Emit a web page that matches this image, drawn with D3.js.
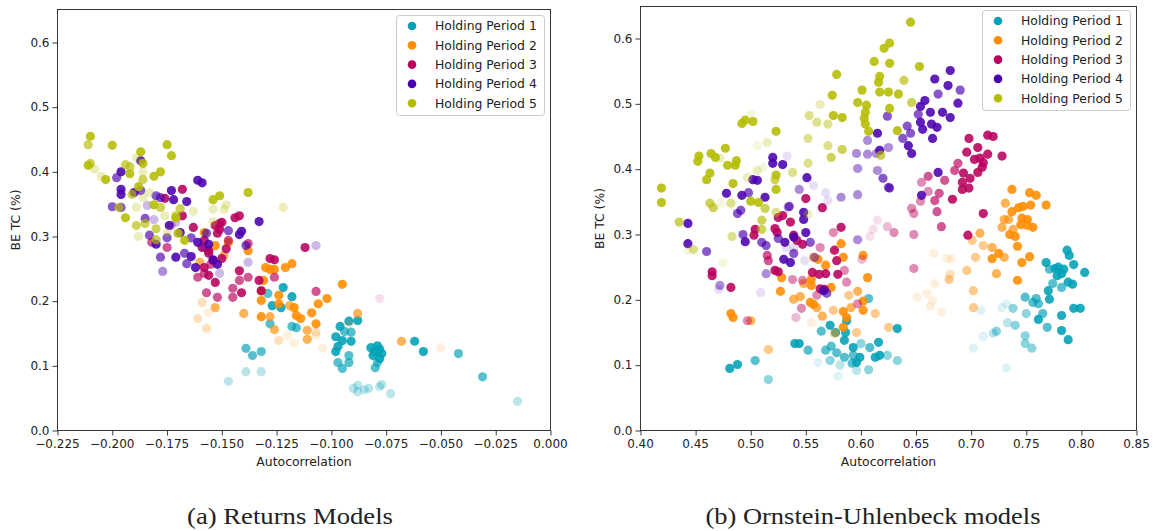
<!DOCTYPE html>
<html>
<head>
<meta charset="utf-8">
<script src="https://cdn.jsdelivr.net/npm/d3@7"></script>
<style>
  body { margin: 0; background: #fff; }
  svg { display: block; }
  text { font-family: "DejaVu Sans", sans-serif; fill: #222; }
</style>
</head>
<body>
<svg id="chart" width="1159" height="531"></svg>
<script>
// Break-even transaction cost vs. autocorrelation, per holding period.
// Each point: [autocorrelation, BE TC (%), model group]; the model group sets the point's transparency.

const seriesNames = ["Holding Period 1", "Holding Period 2", "Holding Period 3", "Holding Period 4", "Holding Period 5"];

// ---- (a) Returns models ----
const retHP1 = [
  [-0.122,0.221,0],[-0.118,0.207,0],[-0.129,0.212,1],[-0.127,0.193,0],[-0.123,0.190,0],[-0.128,0.165,1],[-0.118,0.161,1],[-0.116,0.159,1],
  [-0.139,0.127,1],[-0.136,0.116,1],[-0.132,0.122,1],[-0.096,0.161,0],[-0.092,0.169,0],[-0.088,0.170,0],[-0.094,0.153,1],[-0.091,0.152,1],
  [-0.098,0.145,0],[-0.095,0.139,0],[-0.091,0.138,0],[-0.098,0.122,0],[-0.092,0.116,1],[-0.092,0.105,1],[-0.097,0.105,1],[-0.095,0.096,1],
  [-0.082,0.128,0],[-0.079,0.131,0],[-0.081,0.116,0],[-0.078,0.111,0],[-0.080,0.122,0],[-0.077,0.119,0],[-0.080,0.097,1],[-0.079,0.105,1],
  [-0.062,0.138,0],[-0.058,0.122,0],[-0.042,0.119,1],[-0.031,0.083,1],[-0.015,0.045,3],[-0.090,0.065,3],[-0.088,0.070,3],[-0.088,0.060,3],
  [-0.085,0.063,3],[-0.083,0.065,3],[-0.078,0.068,3],[-0.077,0.071,3],[-0.073,0.057,3],[-0.147,0.076,3],[-0.139,0.091,3],[-0.132,0.091,3],
  [-0.097,0.130,0],[-0.078,0.126,0]
];
const retHP2 = [
  [-0.158,0.306,0],[-0.153,0.286,0],[-0.160,0.260,1],[-0.147,0.291,0],[-0.138,0.278,0],[-0.149,0.271,1],[-0.130,0.252,0],[-0.128,0.249,0],
  [-0.121,0.252,0],[-0.118,0.258,0],[-0.126,0.249,0],[-0.131,0.232,0],[-0.132,0.216,0],[-0.124,0.209,0],[-0.124,0.196,0],[-0.132,0.201,0],
  [-0.132,0.176,0],[-0.128,0.176,1],[-0.117,0.190,0],[-0.116,0.178,0],[-0.114,0.173,0],[-0.109,0.182,0],[-0.107,0.165,0],[-0.102,0.204,0],
  [-0.095,0.226,0],[-0.088,0.181,1],[-0.153,0.190,1],[-0.156,0.182,4],[-0.157,0.158,3],[-0.140,0.181,1],[-0.126,0.156,1],[-0.124,0.139,3],
  [-0.120,0.147,4],[-0.117,0.135,4],[-0.111,0.155,1],[-0.111,0.141,1],[-0.107,0.147,4],[-0.104,0.127,4],[-0.106,0.196,0],[-0.107,0.152,3],
  [-0.068,0.138,1],[-0.050,0.128,4],[-0.161,0.173,3],[-0.159,0.198,3],[-0.119,0.193,1],[-0.092,0.165,4]
];
const retHP3 = [
  [-0.168,0.373,0],[-0.176,0.359,0],[-0.168,0.332,0],[-0.163,0.314,0],[-0.153,0.317,0],[-0.151,0.320,0],[-0.151,0.311,0],[-0.150,0.266,0],
  [-0.159,0.283,0],[-0.156,0.274,0],[-0.158,0.252,0],[-0.153,0.229,0],[-0.157,0.213,1],[-0.161,0.237,1],[-0.158,0.243,1],[-0.182,0.291,1],
  [-0.175,0.283,1],[-0.152,0.206,1],[-0.155,0.257,1],[-0.144,0.329,0],[-0.142,0.332,0],[-0.150,0.322,0],[-0.152,0.305,0],[-0.158,0.294,0],
  [-0.156,0.278,0],[-0.156,0.240,0],[-0.112,0.283,0],[-0.128,0.266,0],[-0.126,0.264,0],[-0.142,0.247,0],[-0.138,0.237,1],[-0.142,0.232,1],
  [-0.145,0.220,1],[-0.141,0.213,0],[-0.145,0.206,1],[-0.133,0.232,0],[-0.132,0.216,0],[-0.126,0.237,1],[-0.107,0.215,1],[-0.148,0.281,0],
  [-0.154,0.263,0],[-0.138,0.289,1],[-0.078,0.204,4],[-0.173,0.317,3],[-0.147,0.294,1]
];
const retHP4 = [
  [-0.187,0.417,0],[-0.196,0.400,0],[-0.198,0.391,1],[-0.161,0.387,0],[-0.159,0.383,0],[-0.196,0.373,0],[-0.196,0.365,0],[-0.190,0.368,0],
  [-0.173,0.371,0],[-0.172,0.357,0],[-0.166,0.354,0],[-0.180,0.363,1],[-0.178,0.360,1],[-0.200,0.346,1],[-0.196,0.345,1],[-0.185,0.328,1],
  [-0.181,0.326,3],[-0.174,0.317,0],[-0.169,0.306,0],[-0.183,0.302,1],[-0.180,0.288,0],[-0.178,0.268,1],[-0.177,0.246,2],[-0.171,0.268,0],
  [-0.167,0.274,1],[-0.164,0.269,0],[-0.161,0.291,0],[-0.156,0.288,0],[-0.154,0.264,0],[-0.152,0.257,0],[-0.162,0.252,0],[-0.166,0.258,1],
  [-0.164,0.298,1],[-0.158,0.283,3],[-0.175,0.298,1],[-0.133,0.323,0],[-0.141,0.308,0],[-0.142,0.303,0],[-0.147,0.309,1],[-0.157,0.305,1],
  [-0.139,0.286,1],[-0.107,0.286,3],[-0.138,0.260,3],[-0.151,0.243,3],[-0.171,0.322,3],[-0.184,0.348,3],[-0.187,0.371,1]
];
const retHP5 = [
  [-0.210,0.455,0],[-0.211,0.442,1],[-0.200,0.441,0],[-0.175,0.442,0],[-0.173,0.425,0],[-0.187,0.431,0],[-0.189,0.422,3],[-0.186,0.413,0],
  [-0.211,0.410,0],[-0.210,0.413,1],[-0.208,0.404,3],[-0.194,0.411,1],[-0.192,0.408,1],[-0.203,0.388,0],[-0.205,0.393,3],[-0.192,0.397,0],
  [-0.186,0.400,3],[-0.186,0.388,1],[-0.178,0.400,0],[-0.181,0.393,0],[-0.188,0.377,0],[-0.191,0.365,1],[-0.186,0.360,3],[-0.183,0.368,3],
  [-0.181,0.349,0],[-0.189,0.345,3],[-0.197,0.345,1],[-0.194,0.329,0],[-0.189,0.317,1],[-0.188,0.300,3],[-0.185,0.320,1],[-0.180,0.312,1],
  [-0.178,0.345,1],[-0.176,0.332,3],[-0.171,0.332,1],[-0.169,0.343,1],[-0.171,0.329,0],[-0.163,0.339,3],[-0.154,0.357,0],[-0.151,0.363,0],
  [-0.154,0.342,3],[-0.149,0.342,3],[-0.154,0.323,3],[-0.170,0.305,0],[-0.167,0.294,0],[-0.180,0.295,1],[-0.175,0.306,3],[-0.138,0.368,0],
  [-0.148,0.349,3],[-0.122,0.345,3]
];

// ---- (b) Ornstein-Uhlenbeck models ----
const ouHP1 = [
  [0.787,0.276,0],[0.789,0.268,0],[0.793,0.254,0],[0.803,0.242,0],[0.768,0.257,0],[0.771,0.247,1],[0.776,0.248,0],[0.779,0.250,0],
  [0.784,0.247,0],[0.778,0.237,0],[0.782,0.240,0],[0.774,0.225,1],[0.782,0.219,1],[0.788,0.227,0],[0.792,0.224,0],[0.770,0.214,0],
  [0.771,0.201,0],[0.749,0.204,1],[0.759,0.202,1],[0.756,0.196,1],[0.761,0.194,1],[0.765,0.179,1],[0.761,0.170,0],[0.750,0.179,2],
  [0.782,0.176,0],[0.793,0.187,0],[0.799,0.187,0],[0.769,0.158,1],[0.782,0.153,0],[0.788,0.139,0],[0.749,0.145,2],[0.749,0.133,2],
  [0.755,0.126,2],[0.740,0.161,2],[0.733,0.165,3],[0.738,0.187,2],[0.728,0.188,4],[0.732,0.194,4],[0.723,0.152,2],[0.720,0.149,3],
  [0.711,0.144,4],[0.702,0.126,4],[0.709,0.184,4],[0.732,0.096,4],[0.633,0.156,0],[0.633,0.107,2],[0.616,0.135,0],[0.613,0.112,0],
  [0.617,0.115,0],[0.624,0.115,2],[0.607,0.093,2],[0.607,0.202,1],[0.587,0.168,0],[0.572,0.161,0],[0.564,0.152,1],[0.577,0.150,0],
  [0.586,0.150,0],[0.585,0.138,0],[0.593,0.127,0],[0.540,0.133,0],[0.544,0.133,0],[0.552,0.123,1],[0.568,0.123,1],[0.573,0.129,1],
  [0.578,0.119,1],[0.585,0.112,1],[0.593,0.115,1],[0.599,0.112,0],[0.596,0.104,0],[0.592,0.103,1],[0.600,0.133,2],[0.608,0.127,1],
  [0.572,0.107,2],[0.561,0.104,4],[0.581,0.100,3],[0.579,0.083,4],[0.596,0.092,3],[0.481,0.095,0],[0.488,0.101,0],[0.504,0.107,1],
  [0.516,0.078,2]
];
const ouHP2 = [
  [0.737,0.369,0],[0.753,0.364,0],[0.759,0.360,0],[0.731,0.348,1],[0.737,0.335,0],[0.743,0.341,0],[0.747,0.343,0],[0.754,0.345,0],
  [0.768,0.345,0],[0.730,0.323,1],[0.734,0.323,1],[0.746,0.325,0],[0.751,0.323,0],[0.745,0.315,0],[0.751,0.314,0],[0.756,0.311,0],
  [0.728,0.311,1],[0.738,0.308,1],[0.735,0.300,0],[0.740,0.297,0],[0.742,0.282,0],[0.753,0.266,0],[0.746,0.257,0],[0.742,0.230,0],
  [0.708,0.302,1],[0.701,0.291,2],[0.711,0.283,2],[0.719,0.280,1],[0.719,0.263,0],[0.725,0.271,0],[0.730,0.265,1],[0.704,0.265,2],
  [0.723,0.240,1],[0.696,0.245,2],[0.681,0.239,3],[0.680,0.231,2],[0.702,0.214,2],[0.702,0.188,2],[0.682,0.263,4],[0.678,0.263,4],
  [0.666,0.271,4],[0.667,0.225,4],[0.660,0.210,4],[0.651,0.204,4],[0.665,0.199,4],[0.663,0.190,4],[0.673,0.181,4],[0.625,0.158,2],
  [0.602,0.268,0],[0.606,0.234,0],[0.602,0.184,0],[0.613,0.179,2],[0.582,0.286,0],[0.584,0.265,0],[0.561,0.262,0],[0.568,0.253,0],
  [0.557,0.265,1],[0.528,0.234,0],[0.555,0.231,0],[0.555,0.222,0],[0.548,0.225,1],[0.573,0.219,0],[0.527,0.213,0],[0.539,0.201,1],
  [0.545,0.205,1],[0.554,0.196,0],[0.557,0.193,0],[0.560,0.188,1],[0.565,0.175,1],[0.575,0.184,2],[0.584,0.182,0],[0.587,0.173,0],
  [0.584,0.158,0],[0.591,0.188,1],[0.589,0.207,2],[0.597,0.213,1],[0.602,0.198,0],[0.596,0.150,2],[0.576,0.149,2],[0.482,0.179,0],
  [0.484,0.173,0],[0.500,0.168,1],[0.516,0.124,2],[0.555,0.165,4]
];
const ouHP3 = [
  [0.550,0.355,0],[0.565,0.341,0],[0.525,0.326,0],[0.529,0.329,0],[0.536,0.319,0],[0.522,0.309,0],[0.524,0.303,0],[0.539,0.299,0],
  [0.542,0.291,0],[0.547,0.285,0],[0.504,0.308,0],[0.503,0.299,0],[0.515,0.268,1],[0.516,0.260,1],[0.482,0.219,0],[0.465,0.243,0],
  [0.465,0.237,0],[0.522,0.245,0],[0.525,0.243,0],[0.538,0.231,2],[0.556,0.242,0],[0.562,0.239,0],[0.568,0.240,0],[0.576,0.276,0],
  [0.578,0.260,0],[0.579,0.239,0],[0.582,0.311,0],[0.575,0.303,2],[0.563,0.280,2],[0.585,0.245,2],[0.587,0.227,2],[0.547,0.230,2],
  [0.563,0.217,0],[0.567,0.216,0],[0.560,0.207,2],[0.546,0.187,2],[0.541,0.173,3],[0.497,0.168,2],[0.597,0.194,2],[0.601,0.262,3],
  [0.611,0.308,4],[0.615,0.322,4],[0.624,0.312,3],[0.630,0.303,2],[0.608,0.297,4],
  [0.698,0.447,0],[0.715,0.452,0],[0.720,0.450,0],[0.706,0.433,0],[0.696,0.426,0],[0.715,0.423,0],[0.728,0.420,0],[0.703,0.415,0],
  [0.708,0.417,0],[0.711,0.410,0],[0.710,0.403,0],[0.706,0.395,0],[0.688,0.409,1],[0.685,0.398,1],[0.693,0.394,0],[0.699,0.386,0],
  [0.692,0.380,0],[0.692,0.369,0],[0.698,0.371,0],[0.676,0.383,1],[0.661,0.389,1],[0.655,0.380,2],[0.661,0.366,2],[0.671,0.363,1],
  [0.667,0.352,1],[0.654,0.351,2],[0.683,0.354,0],[0.669,0.335,1],[0.646,0.340,2],[0.648,0.332,2],[0.673,0.312,1],[0.711,0.332,0],
  [0.697,0.299,0],[0.648,0.300,2],[0.648,0.248,2]
];
const ouHP4 = [
  [0.624,0.481,1],[0.615,0.455,0],[0.606,0.444,2],[0.625,0.433,2],[0.617,0.429,0],[0.596,0.424,2],[0.606,0.423,2],[0.597,0.401,2],
  [0.615,0.398,2],[0.620,0.386,1],[0.625,0.372,1],[0.597,0.361,2],[0.582,0.357,2],[0.520,0.418,0],[0.520,0.409,0],[0.529,0.407,0],
  [0.533,0.420,4],[0.551,0.387,0],[0.544,0.369,2],[0.557,0.375,4],[0.502,0.384,0],[0.506,0.383,0],[0.478,0.363,0],[0.492,0.360,0],
  [0.498,0.364,1],[0.513,0.357,0],[0.534,0.342,2],[0.568,0.364,4],[0.570,0.352,4],[0.488,0.332,1],[0.491,0.337,1],[0.443,0.317,0],
  [0.443,0.286,0],[0.460,0.274,1],[0.493,0.300,1],[0.495,0.289,0],[0.510,0.288,1],[0.514,0.283,1],[0.525,0.294,1],[0.531,0.288,0],
  [0.539,0.296,0],[0.554,0.288,1],[0.548,0.334,0],[0.548,0.323,0],[0.550,0.303,0],[0.535,0.343,1],[0.530,0.262,0],[0.536,0.257,0],
  [0.539,0.271,1],[0.558,0.265,2],[0.514,0.240,2],[0.472,0.222,2],[0.471,0.216,4],[0.509,0.211,4],[0.566,0.214,0],[0.569,0.210,1],
  [0.597,0.292,2],[0.532,0.280,4],[0.539,0.279,4],[0.549,0.260,4],
  [0.654,0.472,0],[0.664,0.469,0],[0.669,0.464,0],[0.656,0.461,0],[0.642,0.466,1],[0.638,0.447,1],[0.645,0.455,1],[0.643,0.436,0],
  [0.646,0.424,0],[0.665,0.447,0],[0.614,0.424,2],[0.626,0.371,1],[0.670,0.395,0],[0.655,0.360,0],
  [0.681,0.551,0],[0.667,0.538,0],[0.679,0.528,0],[0.670,0.515,1],[0.658,0.505,0],[0.654,0.496,0],[0.688,0.501,0],[0.663,0.487,0],
  [0.674,0.487,0],[0.681,0.479,0],[0.652,0.484,1],[0.690,0.521,1]
];
const ouHP5 = [
  [0.645,0.625,0],[0.621,0.585,0],[0.626,0.593,0],[0.612,0.565,0],[0.626,0.562,0],[0.617,0.542,0],[0.616,0.533,0],[0.617,0.518,0],
  [0.625,0.518,0],[0.626,0.493,0],[0.601,0.521,0],[0.597,0.502,0],[0.605,0.498,0],[0.604,0.487,0],[0.603,0.478,0],[0.604,0.469,0],
  [0.607,0.458,0],[0.578,0.545,0],[0.574,0.513,0],[0.563,0.499,3],[0.553,0.482,2],[0.560,0.472,2],[0.570,0.469,2],[0.575,0.482,0],
  [0.583,0.479,0],[0.552,0.447,2],[0.570,0.436,2],[0.583,0.430,1],[0.573,0.418,1],[0.552,0.409,2],[0.538,0.395,2],[0.523,0.458,0],
  [0.515,0.441,3],[0.506,0.436,4],[0.495,0.475,0],[0.492,0.470,0],[0.502,0.473,0],[0.500,0.484,4],[0.477,0.432,0],[0.487,0.413,0],
  [0.486,0.406,0],[0.479,0.406,0],[0.472,0.417,3],[0.468,0.418,0],[0.464,0.424,0],[0.453,0.420,0],[0.452,0.412,0],[0.463,0.394,0],
  [0.460,0.384,0],[0.484,0.378,0],[0.497,0.387,3],[0.506,0.398,3],[0.511,0.403,4],[0.523,0.391,0],[0.522,0.384,1],[0.523,0.369,0],
  [0.419,0.371,0],[0.419,0.349,0],[0.463,0.348,1],[0.466,0.341,1],[0.482,0.348,2],[0.473,0.348,4],[0.500,0.351,0],[0.507,0.349,0],
  [0.513,0.340,1],[0.523,0.334,2],[0.435,0.319,1],[0.448,0.277,2],[0.443,0.276,4],[0.483,0.297,2],[0.475,0.257,4],[0.510,0.308,1],
  [0.510,0.322,1],[0.552,0.331,3],[0.633,0.459,0],[0.618,0.421,1],[0.653,0.557,0],[0.639,0.536,1],[0.634,0.515,0],[0.646,0.502,1]
];

// Axis ticks and their labels
const retXTicks = [-0.225, -0.200, -0.175, -0.150, -0.125, -0.100, -0.075, -0.050, -0.025, 0.000];
const retXTickLabels = ["\u22120.225", "\u22120.200", "\u22120.175", "\u22120.150", "\u22120.125", "\u22120.100", "\u22120.075", "\u22120.050", "\u22120.025", "0.000"];
const ouXTicks = [0.40, 0.45, 0.50, 0.55, 0.60, 0.65, 0.70, 0.75, 0.80, 0.85];
const ouXTickLabels = ["0.40", "0.45", "0.50", "0.55", "0.60", "0.65", "0.70", "0.75", "0.80", "0.85"];
const yTicks = [0.0, 0.1, 0.2, 0.3, 0.4, 0.5, 0.6];
const yTickLabels = ["0.0", "0.1", "0.2", "0.3", "0.4", "0.5", "0.6"];

// Styling
const seriesColors = ["#00a0b6", "#ff8c00", "#b8005c", "#4a00ae", "#b4bc00"];
const groupOpacity = [0.88, 0.66, 0.45, 0.27, 0.13];
const pointRadius = 4.6;

const panels = [
  {
    series: [retHP1, retHP2, retHP3, retHP4, retHP5],
    xDomain: [-0.225, 0.0], yMax: 0.651,
    xTicks: retXTicks, xTickLabels: retXTickLabels,
    box: { left: 57.5, right: 550.5, top: 9.5, bottom: 430.5 },
    legend: { x: 396, y: 15 },
    ylabelX: 16,
    caption: "(a) Returns Models", captionX: 290, captionWidth: 206
  },
  {
    series: [ouHP1, ouHP2, ouHP3, ouHP4, ouHP5],
    xDomain: [0.40, 0.85], yMax: 0.649,
    xTicks: ouXTicks, xTickLabels: ouXTickLabels,
    box: { left: 640.5, right: 1136.5, top: 6.5, bottom: 430.5 },
    legend: { x: 982, y: 10 },
    ylabelX: 600,
    caption: "(b) Ornstein-Uhlenbeck models", captionX: 873, captionWidth: 335
  }
];

const svg = d3.select("#chart");
const fontSize = 12.4;

panels.forEach(p => {
  const b = p.box;
  const x = d3.scaleLinear().domain(p.xDomain).range([b.left, b.right]);
  const y = d3.scaleLinear().domain([0, p.yMax]).range([b.bottom, b.top]);
  const g = svg.append("g");

  // points, one layer per holding period
  p.series.forEach((pts, i) => {
    g.append("g").selectAll("circle").data(pts).join("circle")
      .attr("cx", d => x(d[0]))
      .attr("cy", d => y(d[1]))
      .attr("r", pointRadius)
      .attr("fill", seriesColors[i])
      .attr("fill-opacity", d => groupOpacity[d[2]]);
  });

  // tick marks from the d3 axes; labels written as plain text at the scaled positions
  const xAxis = g.append("g").attr("transform", `translate(0,${b.bottom})`)
    .call(d3.axisBottom(x).tickValues(p.xTicks).tickFormat("").tickSize(5));
  const yAxis = g.append("g").attr("transform", `translate(${b.left},0)`)
    .call(d3.axisLeft(y).tickValues(yTicks).tickFormat("").tickSize(5));
  [xAxis, yAxis].forEach(a => {
    a.select(".domain").remove();
    a.selectAll(".tick line").attr("stroke", "#222").attr("stroke-width", 0.9);
  });

  g.append("g").selectAll("text").data(p.xTicks).join("text")
    .attr("x", d => x(d)).attr("y", b.bottom + 17.5)
    .attr("text-anchor", "middle").style("font-size", "12px")
    .text((d, i) => p.xTickLabels[i]);
  g.append("g").selectAll("text").data(yTicks).join("text")
    .attr("x", b.left - 8).attr("y", d => y(d)).attr("dy", "0.35em")
    .attr("text-anchor", "end").style("font-size", "12px")
    .text((d, i) => yTickLabels[i]);

  // frame
  g.append("rect")
    .attr("x", b.left).attr("y", b.top)
    .attr("width", b.right - b.left).attr("height", b.bottom - b.top)
    .attr("fill", "none").attr("stroke", "#222").attr("stroke-width", 0.9);

  // axis titles
  g.append("text")
    .attr("x", (b.left + b.right) / 2).attr("y", 466)
    .attr("text-anchor", "middle").style("font-size", fontSize + "px")
    .text("Autocorrelation");
  g.append("text")
    .attr("transform", `translate(${p.ylabelX},${(b.top + b.bottom) / 2}) rotate(-90)`)
    .attr("text-anchor", "middle").attr("dy", "0.35em").style("font-size", fontSize + "px")
    .text("BE TC (%)");

  // legend
  const lg = g.append("g").attr("transform", `translate(${p.legend.x},${p.legend.y})`);
  lg.append("rect")
    .attr("x", 0.5).attr("y", 0.5).attr("width", 148).attr("height", 100).attr("rx", 3)
    .attr("fill", "#fff").attr("fill-opacity", 0.8).attr("stroke", "#cccccc");
  seriesNames.forEach((name, i) => {
    const cy = 11 + i * 19.3;
    lg.append("circle").attr("cx", 16).attr("cy", cy).attr("r", 4.3).attr("fill", seriesColors[i]);
    lg.append("text").attr("x", 39).attr("y", cy).attr("dy", "0.35em")
      .style("font-size", fontSize + "px").text(name);
  });

  // caption
  svg.append("text")
    .attr("x", p.captionX).attr("y", 524)
    .attr("text-anchor", "middle")
    .attr("textLength", p.captionWidth).attr("lengthAdjust", "spacingAndGlyphs")
    .style("font-family", '"Liberation Serif", "DejaVu Serif", serif')
    .style("font-size", "23px").attr("fill", "#111")
    .text(p.caption);
});
</script>
</body>
</html>
